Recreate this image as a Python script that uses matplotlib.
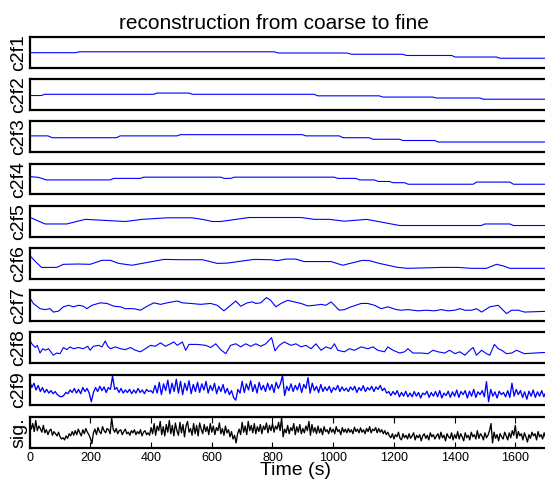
import numpy as np
import matplotlib
matplotlib.use('Agg')
import matplotlib.pyplot as plt

plt.rcParams['font.family'] = ['Liberation Sans', 'DejaVu Sans']

# Values are in percent of each panel's height (reconstruction amplitude, normalised)
C2F1_T = [0, 150, 165, 805, 820, 1045, 1060, 1228, 1242, 1390, 1402, 1538, 1550, 1750]
C2F1_V = [49, 49, 52, 52, 48, 48, 44, 44, 40, 40, 35, 35, 31, 31]

C2F2_T = [0, 38, 50, 408, 420, 524, 536, 937, 949, 1152, 1164, 1328, 1340, 1483, 1495, 1750]
C2F2_V = [47, 47, 51, 51, 55, 55, 51, 51, 46, 46, 42, 42, 39, 39, 35, 35]

C2F3_T = [0, 60, 74, 286, 298, 485, 497, 898, 910, 1020, 1032, 1119, 1131, 1218, 1230, 1334, 1346, 1750]
C2F3_V = [53, 53, 47, 47, 53, 53, 57, 57, 53, 53, 47, 47, 42, 42, 38, 38, 33, 33]

C2F4_T = [0, 30, 55, 265, 277, 364, 376, 629, 641, 662, 674, 1003, 1015, 1075, 1087,
          1136, 1148, 1185, 1197, 1235, 1247, 1461, 1473, 1582, 1594, 1750]
C2F4_V = [58, 55, 47, 47, 52, 52, 56, 56, 52, 52, 56, 56, 52, 52, 47,
          47, 42, 42, 38, 38, 33, 33, 40, 40, 33, 33]

C2F5_T = [0, 25, 51, 122, 183, 315, 370, 453, 535, 569, 602, 629, 723, 894, 938, 987,
          1037, 1110, 1186, 1219, 1488, 1500, 1582, 1594, 1750]
C2F5_V = [63, 52, 41, 41, 56, 49, 56, 61, 61, 56, 49, 49, 62, 62, 56, 56,
          50, 56, 42, 36, 36, 41, 41, 36, 36]

C2F6_T = [0, 20, 39, 89, 111, 160, 199, 238, 266, 293, 337, 387, 442, 497, 569, 618, 651,
          739, 794, 816, 844, 877, 904, 993, 1031, 1097, 1119, 1152, 1213, 1246, 1360,
          1411, 1455, 1505, 1538, 1560, 1582, 1750]
C2F6_V = [76, 55, 37, 37, 47, 48, 47, 60, 60, 50, 44, 53, 63, 62, 62, 50, 51,
          63, 62, 59, 64, 64, 56, 56, 44, 60, 59, 50, 37, 34, 37,
          37, 34, 34, 47, 42, 34, 34]

C2F7_T = [0, 12, 34, 51, 67, 78, 95, 111, 128, 144, 161, 177, 188, 205, 233, 255, 277, 299,
          315, 343, 365, 387, 409, 431, 453, 486, 503, 530, 563, 596, 618, 640, 662, 679,
          695, 717, 734, 745, 761, 780, 794, 811, 828, 850, 872, 894, 916, 938, 960, 976,
          993, 1020, 1037, 1059, 1092, 1114, 1136, 1158, 1180, 1208, 1224, 1246, 1279,
          1307, 1334, 1356, 1378, 1401, 1417, 1434, 1456, 1472, 1489, 1516, 1544, 1571,
          1588, 1610, 1630, 1750]
C2F7_V = [76, 57, 40, 37, 40, 29, 32, 46, 51, 46, 51, 48, 40, 51, 59, 57, 48, 46,
          40, 40, 35, 48, 59, 54, 59, 65, 59, 57, 54, 57, 51, 33, 51, 65,
          48, 59, 62, 57, 59, 76, 67, 46, 57, 67, 62, 57, 49, 51, 54, 51,
          62, 35, 37, 46, 57, 57, 51, 40, 46, 37, 35, 37, 33,
          35, 33, 37, 33, 35, 40, 35, 35, 40, 29, 46, 51, 24,
          35, 35, 29, 33]

C2F8_T = [0, 7, 18, 25, 34, 43, 51, 62, 78, 89, 100, 111, 122, 133, 144, 161, 177, 191,
          199, 210, 227, 238, 249, 257, 266, 282, 299, 315, 332, 348, 365, 381, 398, 414,
          431, 447, 464, 475, 486, 503, 514, 525, 552, 580, 596, 613, 629, 646, 662, 679,
          695, 712, 728, 745, 761, 778, 797, 808, 822, 839, 861, 877, 894, 910, 927, 943,
          960, 976, 993, 1004, 1015, 1037, 1053, 1070, 1092, 1114, 1131, 1147, 1169, 1180,
          1197, 1219, 1235, 1246, 1263, 1290, 1312, 1329, 1345, 1367, 1384, 1401, 1417,
          1434, 1450, 1461, 1472, 1489, 1505, 1516, 1531, 1544, 1555, 1571, 1588, 1604,
          1630, 1750]
C2F8_V = [76, 63, 51, 58, 33, 47, 42, 47, 26, 33, 31, 51, 44, 53, 47, 51, 47, 55,
          42, 55, 58, 53, 72, 55, 47, 53, 47, 44, 51, 42, 37, 47, 58, 55,
          66, 55, 63, 69, 58, 69, 42, 61, 61, 58, 51, 63, 44, 31, 58, 63,
          53, 63, 55, 63, 55, 63, 83, 40, 58, 69, 58, 63, 53, 58, 47, 63,
          42, 53, 47, 63, 42, 37, 47, 42, 53, 47, 53, 42, 37, 53,
          42, 33, 37, 47, 33, 33, 31, 42, 37, 33, 42, 31, 37,
          26, 42, 51, 26, 42, 31, 26, 61, 47, 42, 31, 33, 42,
          31, 38]

# c2f9 sampled every 7 s, sig every 5 s
C2F9_DT = 7
C2F9_V = [80, 58, 72, 50, 65, 45, 58, 42, 52, 40,
          48, 38, 45, 35, 30, 28, 32, 42, 38, 50,
          42, 55, 40, 52, 38, 58, 45, 55, 40, 12,
          42, 58, 45, 62, 48, 60, 42, 58, 52, 95,
          52, 58, 42, 55, 40, 50, 42, 52, 38, 50,
          40, 55, 42, 50, 38, 52, 45, 48, 40, 65,
          40, 75, 35, 70, 48, 82, 38, 72, 45, 85,
          40, 78, 35, 72, 48, 80, 38, 68, 45, 75,
          42, 70, 50, 78, 40, 65, 48, 72, 38, 62,
          45, 68, 40, 55, 35, 48, 25, 17, 52, 40,
          78, 42, 70, 50, 80, 45, 68, 40, 75, 50,
          65, 45, 72, 50, 68, 42, 75, 55, 70, 97,
          32, 62, 48, 70, 45, 65, 50, 72, 42, 68,
          55, 90, 40, 72, 48, 62, 42, 68, 45, 60,
          48, 62, 42, 58, 50, 65, 45, 60, 48, 56,
          45, 60, 50, 62, 42, 58, 48, 64, 45, 58,
          50, 62, 45, 60, 52, 65, 48, 56, 40, 45,
          32, 45, 35, 48, 28, 42, 30, 46, 28, 40,
          28, 45, 30, 42, 24, 40, 35, 46, 26, 42,
          30, 45, 28, 48, 24, 40, 32, 46, 26, 44,
          30, 50, 26, 45, 35, 48, 24, 46, 30, 52,
          26, 44, 35, 48, 28, 77, 12, 52, 30, 44,
          24, 46, 35, 42, 28, 48, 26, 72, 30, 52,
          35, 48, 26, 44, 20, 46, 30, 50, 26, 44,
          30, 48, 28, 44, 35, 46, 26, 42, 30, 44]

SIG_DT = 5
SIG_V = [85, 60, 78, 52, 88, 55, 70, 62, 50, 72,
         48, 58, 42, 55, 60, 40, 52, 45, 38, 50,
         35, 28, 32, 25, 38, 30, 45, 38, 52, 40,
         55, 42, 60, 48, 38, 58, 45, 62, 50, 42,
         30, 13, 48, 60, 42, 65, 52, 45, 68, 55,
         48, 62, 58, 45, 97, 60, 50, 62, 45, 55,
         58, 42, 52, 60, 45, 50, 40, 55, 48, 58,
         42, 52, 45, 58, 38, 50, 55, 42, 48, 40,
         65, 45, 78, 40, 70, 55, 85, 42, 68, 38,
         75, 50, 88, 45, 72, 38, 80, 55, 40, 82,
         48, 75, 35, 70, 85, 50, 62, 40, 78, 45,
         72, 38, 80, 60, 45, 75, 52, 68, 42, 78,
         50, 70, 42, 65, 55, 80, 45, 62, 40, 70,
         48, 58, 35, 52, 28, 40, 15, 45, 60, 42,
         82, 50, 70, 42, 85, 55, 72, 48, 78, 45,
         68, 52, 75, 45, 70, 58, 80, 48, 72, 55,
         78, 50, 70, 60, 82, 55, 97, 35, 60, 48,
         72, 45, 65, 55, 78, 42, 68, 50, 75, 45,
         62, 48, 70, 55, 85, 40, 75, 50, 65, 45,
         70, 48, 62, 42, 68, 52, 58, 45, 65, 50,
         60, 45, 68, 52, 58, 42, 65, 50, 60, 48,
         62, 50, 58, 45, 66, 52, 60, 48, 64, 50,
         58, 45, 62, 52, 68, 48, 60, 55, 65, 48,
         62, 50, 58, 45, 55, 42, 50, 38, 32, 45,
         28, 42, 35, 50, 30, 25, 45, 32, 40, 28,
         45, 30, 38, 48, 25, 40, 32, 42, 22, 38,
         45, 30, 40, 25, 48, 35, 42, 28, 38, 45,
         28, 50, 32, 40, 22, 45, 35, 30, 48, 25,
         42, 30, 52, 28, 45, 35, 22, 48, 32, 40,
         25, 50, 35, 42, 28, 55, 30, 45, 38, 25,
         48, 32, 40, 55, 78, 15, 50, 30, 42, 22,
         45, 35, 28, 50, 38, 25, 48, 32, 55, 40,
         72, 30, 52, 38, 45, 25, 48, 35, 18, 42,
         30, 50, 38, 45, 25, 52, 35, 42, 28, 48,
         32, 45, 38, 50, 25, 42, 35, 48, 30, 45]

LABELS = ['c2f1', 'c2f2', 'c2f3', 'c2f4', 'c2f5', 'c2f6', 'c2f7', 'c2f8', 'c2f9', 'sig.']
X_TICKS = [0, 200, 400, 600, 800, 1000, 1200, 1400, 1600]

series = [
    (C2F1_T, C2F1_V), (C2F2_T, C2F2_V), (C2F3_T, C2F3_V), (C2F4_T, C2F4_V),
    (C2F5_T, C2F5_V), (C2F6_T, C2F6_V), (C2F7_T, C2F7_V), (C2F8_T, C2F8_V),
    (np.arange(len(C2F9_V)) * C2F9_DT, C2F9_V),
    (np.arange(len(SIG_V)) * SIG_DT, SIG_V),
]

W, H = 545, 482
fig = plt.figure(figsize=(W / 100, H / 100), dpi=100)

x0_px = 29.7
px_per_s = 0.3035
width_px = 1750 * px_per_s
top0, step, h = 37.0, 42.2, 30.8

for i, ((t, v), lab) in enumerate(zip(series, LABELS)):
    bottom = 1 - (top0 + step * i + h) / H
    ax = fig.add_axes([x0_px / W, bottom, width_px / W, h / H])
    last = i == len(series) - 1
    ax.plot(t, v, color='k' if last else 'b', linewidth=0.95 if i >= 8 else 0.8)
    ax.set_xlim(0, 1750)
    ax.set_ylim(0, 100)
    ax.set_yticks([])
    ax.set_ylabel(lab, fontsize=14, labelpad=2)
    for sp in ax.spines.values():
        sp.set_linewidth(1.6)
    if last:
        ax.set_xticks(X_TICKS)
        ax.tick_params(axis='x', direction='in', length=4, width=0.8,
                       top=True, labelsize=9, pad=3)
        ax.set_xlabel('Time (s)', fontsize=14, labelpad=-1)
    else:
        ax.set_xticks([])
    if i == 0:
        ax.set_title('reconstruction from coarse to fine', fontsize=15, pad=6)
        # centre the title over the visible part of the axes
        ax.title.set_x((274 - x0_px) / width_px)

fig.savefig('out.png', dpi=100)
